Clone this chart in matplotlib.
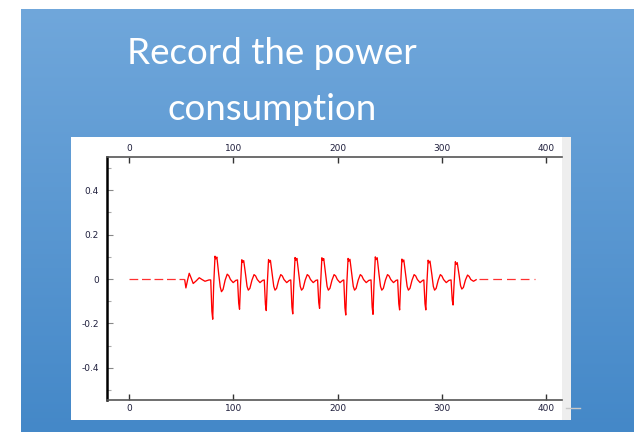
import matplotlib
matplotlib.use("Agg")
import matplotlib.pyplot as plt
import numpy as np
from matplotlib.patches import Rectangle
from matplotlib.ticker import FixedLocator

# ---- data -------------------------------------------------------------
title_lines = ["Record the power", "consumption"]

x_ticks = [0, 100, 200, 300, 400]
x_tick_labels = ["0", "100", "200", "300", "400"]
y_ticks = [0.4, 0.2, 0, -0.2, -0.4]
y_tick_labels = ["0.4", "0.2", "0", "-0.2", "-0.4"]
y_minor_ticks = [0.5, 0.3, 0.1, -0.1, -0.3, -0.5]

# quiet stretches before and after the activity (sample index, value)
quiet_head_x = [0, 53]
quiet_head_y = [-0.002, -0.002]
quiet_tail_x = [335.5, 389.5]
quiet_tail_y = [-0.002, -0.002]

# recorded trace during the activity (sample index)
trace_x = [
    53.5, 54.6, 56.2, 57.8, 59.6, 61.6, 64.5, 67.4, 70.0, 72.9, 76.7,
    78.4, 79.5, 80.3, 81.2, 82.5, 83.3, 84.3, 86.1, 87.5, 88.7, 90.2, 92.2, 94.2, 95.7, 97.3, 99.9, 102.4,
    104.1, 105.2, 106.0, 106.9, 108.2, 109.0, 110.0, 111.8, 113.2, 114.4, 115.9, 117.9, 119.9, 121.4, 123.0, 125.6, 128.1,
    129.7, 130.8, 131.6, 132.5, 133.8, 134.6, 135.6, 137.4, 138.8, 140.0, 141.5, 143.5, 145.5, 147.0, 148.6, 151.2, 153.7,
    155.1, 156.2, 157.0, 157.9, 159.2, 160.0, 161.0, 162.8, 164.2, 165.4, 166.9, 168.9, 170.9, 172.4, 174.0, 176.6, 179.1,
    180.8, 181.9, 182.7, 183.6, 184.9, 185.7, 186.7, 188.5, 189.9, 191.1, 192.6, 194.6, 196.6, 198.1, 199.7, 202.3, 204.8,
    205.9, 207.0, 207.8, 208.7, 210.0, 210.8, 211.8, 213.6, 215.0, 216.2, 217.7, 219.7, 221.7, 223.2, 224.8, 227.4, 229.9,
    232.0, 233.1, 233.9, 234.8, 236.1, 236.9, 237.9, 239.7, 241.1, 242.3, 243.8, 245.8, 247.8, 249.3, 250.9, 253.5, 256.0,
    257.5, 258.6, 259.4, 260.3, 261.6, 262.4, 263.4, 265.2, 266.6, 267.8, 269.3, 271.3, 273.3, 274.8, 276.4, 279.0, 281.5,
    282.6, 283.7, 284.5, 285.4, 286.7, 287.5, 288.5, 290.3, 291.7, 292.9, 294.4, 296.4, 298.4, 299.9, 301.5, 304.1, 306.6,
    308.7, 309.8, 310.6, 311.5, 312.8, 313.6, 314.6, 316.4, 317.8, 319.0, 320.5, 322.5, 324.5, 326.0, 327.6, 330.2, 332.7,
]

# recorded trace values
trace_y = [
    -0.004, -0.040, -0.005, 0.026, 0.005, -0.020, -0.008, 0.006, -0.002, -0.010, -0.004,
    -0.004, -0.145, -0.181, -0.030, 0.103, 0.091, 0.099, 0.020, -0.035, -0.057, -0.047, -0.005, 0.022, 0.015, -0.002, -0.016, -0.006,
    -0.004, -0.109, -0.136, -0.030, 0.087, 0.075, 0.083, 0.020, -0.033, -0.050, -0.042, -0.005, 0.020, 0.014, -0.002, -0.016, -0.006,
    -0.004, -0.114, -0.142, -0.030, 0.088, 0.076, 0.084, 0.020, -0.033, -0.050, -0.042, -0.005, 0.020, 0.014, -0.002, -0.016, -0.006,
    -0.004, -0.126, -0.157, -0.030, 0.097, 0.085, 0.093, 0.020, -0.033, -0.050, -0.042, -0.005, 0.020, 0.014, -0.002, -0.016, -0.006,
    -0.004, -0.106, -0.132, -0.030, 0.096, 0.084, 0.092, 0.020, -0.033, -0.050, -0.042, -0.005, 0.020, 0.014, -0.002, -0.016, -0.006,
    -0.004, -0.130, -0.162, -0.030, 0.093, 0.081, 0.089, 0.020, -0.033, -0.050, -0.042, -0.005, 0.020, 0.014, -0.002, -0.016, -0.006,
    -0.004, -0.127, -0.159, -0.030, 0.100, 0.088, 0.096, 0.020, -0.033, -0.050, -0.042, -0.005, 0.020, 0.014, -0.002, -0.016, -0.006,
    -0.004, -0.111, -0.139, -0.030, 0.090, 0.078, 0.086, 0.020, -0.033, -0.050, -0.042, -0.005, 0.020, 0.014, -0.002, -0.016, -0.006,
    -0.004, -0.111, -0.139, -0.030, 0.085, 0.073, 0.081, 0.020, -0.033, -0.050, -0.042, -0.005, 0.020, 0.014, -0.002, -0.016, -0.006,
    -0.004, -0.094, -0.117, -0.030, 0.078, 0.066, 0.074, 0.018, -0.030, -0.045, -0.038, -0.004, 0.018, 0.012, -0.002, -0.010, -0.003,
]

# ---- figure -----------------------------------------------------------
W, H = 634, 432
fig = plt.figure(figsize=(W / 100, H / 100), dpi=100)
fig.patch.set_facecolor("white")

# slide background with a soft vertical gradient
bg = fig.add_axes([0, 0, 1, 1])
bg.set_xlim(0, W)
bg.set_ylim(H, 0)
bg.axis("off")
top_rgb = np.array([0x70, 0xA7, 0xDB]) / 255
bot_rgb = np.array([0x44, 0x88, 0xC8]) / 255
t = np.linspace(0, 1, 256)[:, None, None]
grad = top_rgb * (1 - t) + bot_rgb * t
grad = np.repeat(grad, 2, axis=1)
bg.imshow(grad, extent=[21, W, H, 9], aspect="auto", interpolation="bilinear", zorder=0)

# white chart panel and the grey strip on its right edge
bg.add_patch(Rectangle((71, 137), 491, 283, facecolor="white", edgecolor="none", zorder=1))
bg.add_patch(Rectangle((562, 137), 9, 283, facecolor="#EEEEEE", edgecolor="none", zorder=1))
bg.plot([566, 580], [408, 408], color="#C8C8C8", lw=1, zorder=2)

# slide title
title_kw = dict(color="white", ha="center", va="baseline", fontsize=26.5,
                family=["Lato", "DejaVu Sans"], fontweight="normal", zorder=3)
bg.text(272, 64, title_lines[0], **title_kw)
bg.text(272, 120, title_lines[1], **title_kw)

# ---- plot -------------------------------------------------------------
ax = fig.add_axes([107 / W, 1 - 400 / H, 455 / W, 243 / H])
ax.patch.set_alpha(0)

ax.plot(quiet_head_x, quiet_head_y, color="#FF3030", lw=0.9, dashes=(7, 3))
ax.plot(quiet_tail_x, quiet_tail_y, color="#FF3030", lw=0.9, dashes=(7, 4))
ax.plot(trace_x, trace_y, color="#FF0000", lw=0.95)

ax.set_xlim(-21, 415)
ax.set_ylim(-0.545, 0.55)

ax.xaxis.set_major_locator(FixedLocator(x_ticks))
ax.set_xticklabels(x_tick_labels)
ax.yaxis.set_major_locator(FixedLocator(y_ticks))
ax.set_yticklabels(y_tick_labels)
ax.yaxis.set_minor_locator(FixedLocator(y_minor_ticks))

label_color = "#1E1E3C"
ax.tick_params(axis="x", which="major", direction="in", length=4, width=1,
               color="#333333", labelsize=6.5, labelcolor=label_color,
               top=True, labeltop=True, bottom=True, labelbottom=True, pad=3)
ax.tick_params(axis="y", which="major", direction="in", length=4, width=0.8,
               color="#888888", labelsize=6.5, labelcolor=label_color, pad=6)
ax.tick_params(axis="y", which="minor", direction="in", length=3, width=0.8,
               color="#AAAAAA")
for lab in ax.get_xticklabels() + ax.get_yticklabels():
    lab.set_family("DejaVu Sans")

ax.spines["right"].set_visible(False)
ax.spines["left"].set_color("black")
ax.spines["left"].set_linewidth(1.8)
for side in ("top", "bottom"):
    ax.spines[side].set_color("#555555")
    ax.spines[side].set_linewidth(1.2)

fig.savefig("out.png", dpi=100)
